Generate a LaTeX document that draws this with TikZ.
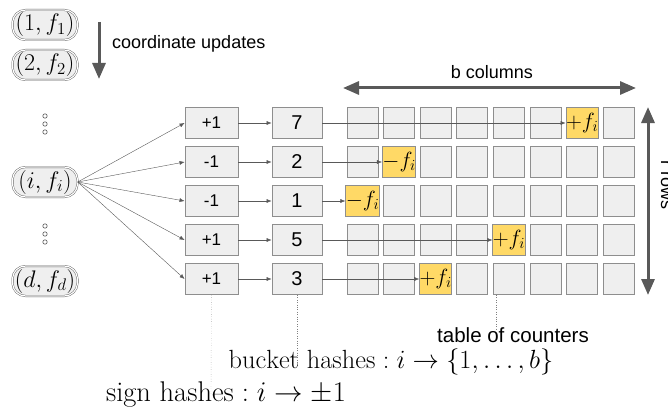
\RequirePackage{fix-cm}
\documentclass[tikz,border=0pt]{standalone}
\usepackage{fontspec}
\setsansfont{Liberation Sans}
\usetikzlibrary{arrows.meta}
\definecolor{boxgray}{HTML}{EFEFEF}
\definecolor{edgegray}{HTML}{8E8E8E}
\definecolor{linegray}{HTML}{595959}
\definecolor{hityellow}{HTML}{FFD966}
\begin{document}
\begin{tikzpicture}[x=1pt,y=-1pt,
    upd/.style={draw=linegray,double,double distance=1.2pt,fill=boxgray,rounded corners=13pt,minimum width=65pt,minimum height=30pt,inner sep=0pt,font=\fontsize{24}{24}\selectfont},
    signbox/.style={draw=edgegray,fill=boxgray,line width=0.9pt,minimum width=53pt,minimum height=31pt,inner sep=0pt,font=\sffamily\fontsize{17}{17}\selectfont},
    bucketbox/.style={signbox,minimum width=50pt,font=\sffamily\fontsize{20}{20}\selectfont},
    cell/.style={draw=edgegray,fill=boxgray,line width=0.9pt,minimum size=31pt,inner sep=0pt,font=\fontsize{22}{22}\selectfont},
    conn/.style={draw=linegray,-{Latex[length=5pt,width=4pt]}},
    bigarrow/.style={draw=linegray,line width=3pt},
    dotline/.style={draw=gray,dotted,thin},
    lbl/.style={font=\sffamily\fontsize{18}{18}\selectfont,inner sep=0pt}]
  \useasboundingbox (0,0) rectangle (668,409);

  % coordinate updates
  \node[upd] (p1) at (45,25) {$(1,f_1)$};
  \node[upd] (p2) at (45,65) {$(2,f_2)$};
  \node[upd] (pi) at (45,182) {$(i,f_i)$};
  \node[upd] (pd) at (45,281) {$(d,f_d)$};
  \foreach \yy in {116,124,132,226,234,242}
    \draw[linegray,fill=white,line width=0.6pt] (45,\yy) circle (2.2pt);
  \coordinate (u0) at (99,22);
  \coordinate (u1) at (99,79);
  \draw[bigarrow,-{Triangle[length=16pt,width=13pt]}] (u0) -- (u1);
  \node[lbl,anchor=west] (updlbl) at (112,44) {coordinate updates};

  % hashes and table of counters
  \foreach \r/\sg/\bk/\op [evaluate=\r as \yy using 84+39*\r] in {1/+1/7/+,2/-1/2/-,3/-1/1/-,4/+1/5/+,5/+1/3/+}{
    \node[signbox] (s\r) at (211.5,\yy) {\sg};
    \node[bucketbox] (b\r) at (297,\yy) {\bk};
    \foreach \c [evaluate=\c as \xx using 362.5+36.6*(\c-1)] in {1,...,8}{
      \ifnum\c=\bk\relax
        \node[cell,fill=hityellow] (c\r-\c) at (\xx,\yy) {$\op f_i$};
      \else
        \node[cell] (c\r-\c) at (\xx,\yy) {};
      \fi
    }
    \draw[conn] (pi.east) -- (s\r.west);
    \draw[conn] (s\r) -- (b\r);
    \draw[conn] (b\r) -- (c\r-\bk);
  }

  % extents of the table
  \coordinate (bc0) at (343,88);
  \coordinate (bc1) at (636,88);
  \draw[bigarrow,{Triangle[length=16pt,width=13pt]}-{Triangle[length=16pt,width=13pt]}] (bc0) -- (bc1);
  \node[lbl] (collbl) at (492,72) {b columns};
  \coordinate (rw0) at (648,107);
  \coordinate (rw1) at (648,295);
  \draw[bigarrow,{Triangle[length=16pt,width=13pt]}-{Triangle[length=16pt,width=13pt]}] (rw0) -- (rw1);
  \node[lbl,rotate=-90,anchor=base] (rowlbl) at (661,185) {r rows};

  % labels below
  \coordinate (tc) at (496,329);
  \coordinate (bk) at (297,365);
  \coordinate (sg) at (211,394);
  \draw[dotline] (tc |- c5-5.south) -- (tc);
  \draw[dotline] (b5) -- (bk);
  \draw[dotline] (s5) -- (sg);
  \node[lbl,font=\sffamily\fontsize{20.5}{20.5}\selectfont] (tbllbl) at (513,335) {table of counters};
  \node[font=\fontsize{26.3}{26.3}\selectfont,inner sep=0pt] (bktlbl) at (391,362) {$\mathrm{bucket\ hashes} : i \rightarrow \{1,\ldots,b\}$};
  \node[font=\fontsize{28.5}{28.5}\selectfont,inner sep=0pt] (sgnlbl) at (226,395) {$\mathrm{sign\ hashes} : i \rightarrow \pm 1$};
\end{tikzpicture}
\end{document}
